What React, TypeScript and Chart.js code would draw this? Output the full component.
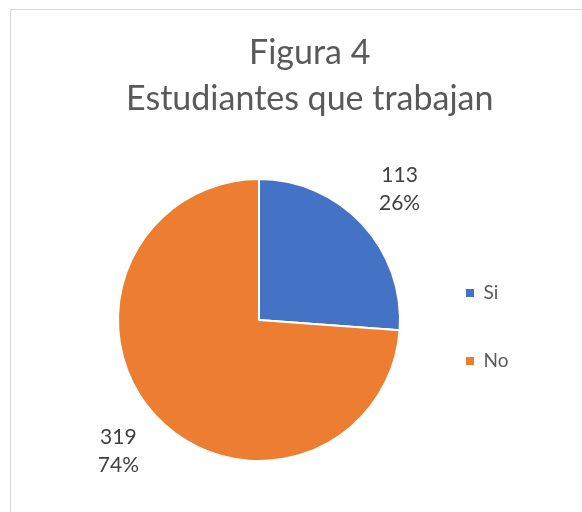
import React, { useEffect, useRef } from "react";
import { Chart, registerables } from "chart.js";

Chart.register(...registerables);

const titleLines = ["Figura 4", "Estudiantes que trabajan"];
const categories = ["Si", "No"];
const values = [113, 319];
const colors = ["#4472C4", "#ED7D31"];

const FONT = "Lato";

const dataLabelPlugin = {
  id: "dataLabelsOutside",
  afterDatasetsDraw(chart: any) {
    const ctx = chart.ctx;
    const meta = chart.getDatasetMeta(0);
    const data = chart.data.datasets[0].data as number[];
    const total = data.reduce((a, b) => a + b, 0);
    ctx.save();
    ctx.font = `21px ${FONT}`;
    ctx.fillStyle = "#404040";
    ctx.textAlign = "center";
    ctx.textBaseline = "middle";
    meta.data.forEach((arc: any, i: number) => {
      const { x, y, startAngle, endAngle, outerRadius } = arc.getProps(
        ["x", "y", "startAngle", "endAngle", "outerRadius"],
        true
      );
      const mid = (startAngle + endAngle) / 2;
      const r = outerRadius + 51;
      const px = x + Math.cos(mid) * r;
      const py = y + Math.sin(mid) * r;
      const pct = Math.round((data[i] / total) * 100) + "%";
      ctx.fillText(String(data[i]), px, py - 14);
      ctx.fillText(pct, px, py + 14);
    });
    ctx.restore();
  },
};

export default function App() {
  const ref = useRef<HTMLCanvasElement>(null);
  useEffect(() => {
    if (!ref.current) return;
    const mctx = document.createElement("canvas").getContext("2d")!;
    mctx.font = `19px ${FONT}`;
    const maxText = Math.max(...categories.map((c) => mctx.measureText(c).width));
    const legendPad = 49;
    const legendWidth = legendPad + 8 + 9.5 + maxText + 10;
    const legendLeft = 417;
    const padRight = 582 - legendLeft - legendWidth;

    const baseGen = (Chart as any).overrides.pie.plugins.legend.labels.generateLabels;
    const chart = new Chart(ref.current, {
      type: "pie",
      data: {
        labels: categories,
        datasets: [
          {
            data: values,
            backgroundColor: colors,
            borderColor: "#ffffff",
            borderWidth: 2,
            radius: 141,
          } as any,
        ],
      },
      options: {
        animation: false,
        responsive: false,
        events: [],
        layout: { padding: { top: 10, left: 101, right: padRight, bottom: 4.5 } },
        plugins: {
          title: {
            display: true,
            text: titleLines,
            color: "#595959",
            font: { family: FONT, size: 34, weight: "normal", lineHeight: 46 / 34 },
            padding: { top: 20.5, bottom: 10 },
          },
          legend: {
            display: true,
            position: "right",
            fullSize: false,
            title: { display: true, text: "", font: { size: 14, lineHeight: 1 }, padding: 0 },
            labels: {
              boxWidth: 8,
              boxHeight: 8,
              padding: legendPad,
              color: "#595959",
              font: { family: FONT, size: 19 },
              generateLabels: (c: any) =>
                baseGen(c).map((l: any) => ({ ...l, lineWidth: 0, strokeStyle: "transparent" })),
            },
          },
          tooltip: { enabled: false },
        },
      },
      plugins: [dataLabelPlugin],
    });
    return () => chart.destroy();
  }, []);

  return (
    <div style={{ position: "absolute", left: 0, top: 0, width: 582, height: 512, background: "#fff", overflow: "hidden" }}>
      <canvas ref={ref} width={582} height={512} style={{ position: "absolute", left: 0, top: 0 }} />
      <div
        style={{
          position: "absolute",
          left: 10,
          top: 9,
          width: 600,
          height: 600,
          border: "1px solid #d9d9d9",
          pointerEvents: "none",
        }}
      />
    </div>
  );
}
